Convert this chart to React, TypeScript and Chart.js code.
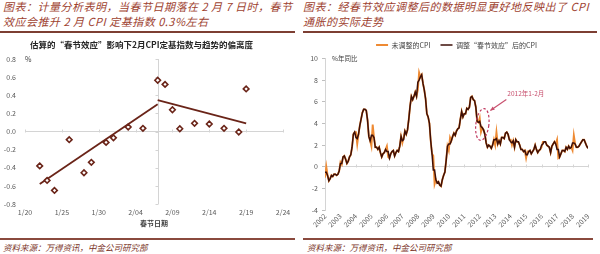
import React, { useEffect, useRef } from 'react';
import { Chart, registerables } from 'chart.js';

Chart.register(...registerables);

const FONT = '"Noto Sans CJK SC", "Noto Sans", sans-serif';

// ---------------- left panel ----------------
const leftHeader = ['图表：计量分析表明，当春节日期落在 2 月 7 日时，春节', '效应会推升 2 月 CPI 定基指数 0.3%左右'];
const leftTitle = '估算的“春节效应”影响下2月CPI定基指数与趋势的偏离度';
const leftXTitle = '春节日期';
const leftUnit = '%';
const leftTickLabels = ['1/20', '1/25', '1/30', '2/04', '2/09', '2/14', '2/19', '2/24'];
const leftAxisCross = '2/07';
const leftDates = ['1/22', '1/23', '1/24', '1/26', '1/28', '1/29', '1/31', '2/01', '2/03', '2/05', '2/07', '2/08', '2/09', '2/10', '2/12', '2/14', '2/16', '2/18', '2/19'];
const leftDeviation = [-0.38, -0.54, -0.65, -0.09, -0.455, -0.34, -0.12, -0.07, 0.05, 0.035, 0.565, 0.52, 0.24, 0.03, 0.09, 0.083, 0.035, -0.005, 0.47];
const trendBeforeDates = ['1/22', '2/07'];
const trendBeforeValues = [-0.58, 0.30];
const trendAfterDates = ['2/07', '2/19'];
const trendAfterValues = [0.345, 0.09];
const leftYTicks = { min: -0.8, max: 0.8, step: 0.2 };

// ---------------- right panel ----------------
const rightHeader = ['图表：经春节效应调整后的数据明显更好地反映出了 CPI', '通胀的实际走势'];
const seriesNames = ['未调整的CPI', '调整“春节效应”后的CPI'];
const rightUnit = '%年同比';
const yearLabels = ['2002', '2003', '2004', '2005', '2006', '2007', '2008', '2009', '2010', '2011', '2012', '2013', '2014', '2015', '2016', '2017', '2018', '2019'];
const cpiRaw = [
  -1.0, 0.0, -0.8, -1.3, -1.1, -0.8, -0.9, -0.7, -0.7, -0.8, -0.7, -0.4,
  0.4, 0.2, 0.9, 1.0, 0.7, 0.3, 0.5, 0.9, 1.1, 1.8, 3.0, 3.2,
  3.2, 2.1, 3.0, 3.8, 4.4, 5.0, 5.3, 5.3, 5.2, 4.3, 2.8, 2.4,
  1.9, 3.9, 2.7, 1.8, 1.8, 1.6, 1.8, 1.3, 0.9, 1.2, 1.3, 1.6,
  1.9, 0.9, 0.8, 1.2, 1.4, 1.5, 1.0, 1.3, 1.5, 1.4, 1.9, 2.8,
  2.2, 2.7, 3.3, 3.0, 3.4, 4.4, 5.6, 6.5, 6.2, 6.5, 6.9, 6.5,
  7.1, 8.7, 8.3, 8.5, 7.7, 7.1, 6.3, 4.9, 4.6, 4.0, 2.4, 1.2,
  1.0, -1.6, -1.2, -1.5, -1.4, -1.7, -1.8, -1.2, -0.8, -0.5, 0.6, 1.9,
  1.5, 2.7, 2.4, 2.8, 3.1, 2.9, 3.3, 3.5, 3.6, 4.4, 5.1, 4.6,
  4.9, 4.9, 5.4, 5.3, 5.5, 6.4, 6.5, 6.2, 6.1, 5.5, 4.2, 4.1,
  4.5, 3.2, 3.6, 3.4, 3.0, 2.2, 1.8, 2.0, 1.9, 1.7, 2.0, 2.5,
  2.0, 3.2, 2.1, 2.4, 2.1, 2.7, 2.7, 2.6, 3.1, 3.2, 3.0, 2.5,
  2.5, 2.0, 2.4, 1.8, 2.5, 2.3, 2.3, 2.0, 1.6, 1.6, 1.4, 1.5,
  0.8, 1.4, 1.4, 1.5, 1.2, 1.4, 1.6, 2.0, 1.6, 1.3, 1.5, 1.6,
  1.8, 2.3, 2.3, 2.3, 2.0, 1.9, 1.8, 1.3, 1.9, 2.1, 2.3, 2.1,
  2.5, 0.8, 0.9, 1.2, 1.5, 1.5, 1.4, 1.8, 1.6, 1.9, 1.7, 1.8,
  1.5, 2.9, 2.1, 1.8, 1.8, 1.9, 2.1, 2.3, 2.5, 2.5, 2.2, 1.9,
  1.7,
];
const cpiAdj = [
  -0.5, -0.5, -0.8, -1.3, -1.1, -0.8, -0.9, -0.7, -0.7, -0.8, -0.7, -0.4,
  0.3, 0.3, 0.9, 1.0, 0.7, 0.3, 0.5, 0.9, 1.1, 1.8, 3.0, 3.2,
  2.7, 2.6, 3.0, 3.8, 4.4, 5.0, 5.3, 5.3, 5.2, 4.3, 2.8, 2.4,
  2.9, 2.9, 2.7, 1.8, 1.8, 1.6, 1.8, 1.3, 0.9, 1.2, 1.3, 1.6,
  1.4, 1.4, 0.8, 1.2, 1.4, 1.5, 1.0, 1.3, 1.5, 1.4, 1.9, 2.8,
  2.4, 2.5, 3.3, 3.0, 3.4, 4.4, 5.6, 6.5, 6.2, 6.5, 6.9, 6.5,
  7.8, 8.0, 8.3, 8.5, 7.7, 7.1, 6.3, 4.9, 4.6, 4.0, 2.4, 1.2,
  -0.3, -0.3, -1.2, -1.5, -1.4, -1.7, -1.8, -1.2, -0.8, -0.5, 0.6, 1.9,
  2.1, 2.1, 2.4, 2.8, 3.1, 2.9, 3.3, 3.5, 3.6, 4.4, 5.1, 4.6,
  4.9, 4.9, 5.4, 5.3, 5.5, 6.4, 6.5, 6.2, 6.1, 5.5, 4.2, 4.1,
  4.2, 3.7, 3.6, 3.4, 3.0, 2.2, 1.8, 2.0, 1.9, 1.7, 2.0, 2.5,
  2.5, 2.6, 2.1, 2.4, 2.1, 2.7, 2.7, 2.6, 3.1, 3.2, 3.0, 2.5,
  2.3, 2.2, 2.4, 1.8, 2.5, 2.3, 2.3, 2.0, 1.6, 1.6, 1.4, 1.5,
  1.1, 1.1, 1.4, 1.5, 1.2, 1.4, 1.6, 2.0, 1.6, 1.3, 1.5, 1.6,
  2.0, 2.1, 2.3, 2.3, 2.0, 1.9, 1.8, 1.3, 1.9, 2.1, 2.3, 2.1,
  1.6, 1.6, 0.9, 1.2, 1.5, 1.5, 1.4, 1.8, 1.6, 1.9, 1.7, 1.8,
  2.2, 2.2, 2.1, 1.8, 1.8, 1.9, 2.1, 2.3, 2.5, 2.5, 2.2, 1.9,
  1.7,
];
const rightYTicks = { min: -4, max: 10, step: 2 };
const annoText = '2012年1-2月';
const annoMonths = [120, 121];
const annoValue = 3.9;
const sourceText = '资料来源：万得资讯，中金公司研究部';

// ---------------- helpers ----------------
function dayIndex(s: string) {
  const [m, d] = s.split('/').map(Number);
  return (m === 1 ? d : 31 + d) - 20;
}
const pts = (dates: string[], vals: number[]) => dates.map((d, i) => ({ x: dayIndex(d), y: vals[i] }));

const BROWN = '#6a2418';
const AXIS = '#d4d4d4';

const leftPlugin = {
  id: 'leftAxes',
  beforeDatasetsDraw(chart: any) {
    const { ctx, chartArea, scales } = chart;
    const x = scales.x, y = scales.y;
    const cx = Math.round(x.getPixelForValue(dayIndex(leftAxisCross))) + 0.5;
    const zy = Math.round(y.getPixelForValue(0)) + 0.5;
    ctx.save();
    ctx.strokeStyle = AXIS;
    ctx.lineWidth = 1;
    ctx.beginPath();
    ctx.moveTo(cx, chartArea.top);
    ctx.lineTo(cx, chartArea.bottom);
    y.ticks.forEach((t: any) => {
      const py = Math.round(y.getPixelForValue(t.value)) + 0.5;
      ctx.moveTo(cx - 3, py);
      ctx.lineTo(cx, py);
    });
    x.ticks.forEach((t: any) => {
      const px = Math.round(x.getPixelForValue(t.value)) + 0.5;
      ctx.moveTo(px, zy);
      ctx.lineTo(px, zy - 3);
    });
    ctx.stroke();
    ctx.fillStyle = '#404040';
    ctx.font = `7px ${FONT}`;
    ctx.textAlign = 'left';
    ctx.textBaseline = 'middle';
    ctx.fillText(leftUnit, chartArea.left, chartArea.top);
    ctx.restore();
  },
};

const rightPlugin = {
  id: 'rightDecor',
  beforeDatasetsDraw(chart: any) {
    const { ctx, chartArea, scales } = chart;
    const x = scales.x, y = scales.y;
    const zy = Math.round(y.getPixelForValue(0)) + 0.5;
    ctx.save();
    ctx.strokeStyle = AXIS;
    ctx.lineWidth = 1;
    ctx.beginPath();
    x.ticks.forEach((t: any) => {
      const px = Math.round(x.getPixelForValue(t.value)) + 0.5;
      ctx.moveTo(px, zy);
      ctx.lineTo(px, zy - 3);
    });
    ctx.stroke();
    ctx.fillStyle = '#404040';
    ctx.font = `6.5px ${FONT}`;
    ctx.textAlign = 'left';
    ctx.textBaseline = 'middle';
    ctx.fillText(rightUnit, chartArea.left + 7, chartArea.top);
    ctx.restore();
  },
  afterDatasetsDraw(chart: any) {
    const { ctx, scales } = chart;
    const x = scales.x, y = scales.y;
    const cx = (x.getPixelForValue(annoMonths[0]) + x.getPixelForValue(annoMonths[1])) / 2 + 2;
    const cy = y.getPixelForValue(annoValue);
    ctx.save();
    ctx.strokeStyle = '#c0395f';
    ctx.lineWidth = 1.2;
    ctx.setLineDash([2.5, 2]);
    ctx.beginPath();
    ctx.ellipse(cx, cy, 6.5, 16, (7 * Math.PI) / 180, 0, Math.PI * 2);
    ctx.stroke();
    ctx.setLineDash([]);
    const ax0 = cx + 24, ay0 = cy - 25, ax1 = cx + 8, ay1 = cy - 14;
    ctx.strokeStyle = '#c8506e';
    ctx.fillStyle = '#c8506e';
    ctx.lineWidth = 1.2;
    ctx.beginPath();
    ctx.moveTo(ax0, ay0);
    ctx.lineTo(ax1, ay1);
    ctx.stroke();
    const ang = Math.atan2(ay1 - ay0, ax1 - ax0);
    ctx.beginPath();
    ctx.moveTo(ax1, ay1);
    ctx.lineTo(ax1 - 4.5 * Math.cos(ang - 0.45), ay1 - 4.5 * Math.sin(ang - 0.45));
    ctx.lineTo(ax1 - 4.5 * Math.cos(ang + 0.45), ay1 - 4.5 * Math.sin(ang + 0.45));
    ctx.closePath();
    ctx.fill();
    ctx.font = `6.5px ${FONT}`;
    ctx.textAlign = 'left';
    ctx.textBaseline = 'middle';
    ctx.fillText(annoText, cx + 25, cy - 31);
    ctx.restore();
  },
};

const zeroOnly = (c: any) => (Math.abs(c.tick?.value ?? 1) < 1e-9 ? AXIS : 'rgba(0,0,0,0)');

function leftConfig(): any {
  return {
    type: 'scatter',
    data: {
      datasets: [
        {
          label: 'deviation',
          data: pts(leftDates, leftDeviation),
          pointStyle: 'rectRot',
          pointRadius: 2.8,
          pointBorderWidth: 1.6,
          pointBorderColor: BROWN,
          pointBackgroundColor: '#ffffff',
          showLine: false,
        },
        {
          label: 'trend1',
          data: pts(trendBeforeDates, trendBeforeValues),
          showLine: true,
          borderColor: BROWN,
          borderWidth: 1.8,
          pointRadius: 0,
        },
        {
          label: 'trend2',
          data: pts(trendAfterDates, trendAfterValues),
          showLine: true,
          borderColor: BROWN,
          borderWidth: 1.8,
          pointRadius: 0,
        },
      ],
    },
    options: {
      animation: false,
      responsive: false,
      devicePixelRatio: 1,
      layout: { padding: { right: 17 } },
      plugins: {
        legend: { display: false },
        tooltip: { enabled: false },
        title: {
          display: true,
          text: leftTitle,
          color: '#262626',
          font: { family: FONT, size: 8.5, weight: 'bold' },
          padding: { top: 3.9, bottom: 8.9 },
        },
      },
      scales: {
        x: {
          type: 'linear',
          min: 0,
          max: (leftTickLabels.length - 1) * 5,
          afterFit: (s: any) => { s.height = 28; },
          grid: { display: false, drawTicks: false },
          border: { display: false },
          ticks: {
            stepSize: 5,
            autoSkip: false,
            maxRotation: 0,
            padding: 4,
            color: '#595959',
            font: { family: FONT, size: 7 },
            callback: (v: number) => leftTickLabels[Math.round(v / 5)] ?? '',
          },
          title: {
            display: true,
            text: leftXTitle,
            color: '#404040',
            font: { family: FONT, size: 7, weight: 'bold' },
            padding: { top: 0, bottom: 4.8 },
          },
        },
        y: {
          min: leftYTicks.min,
          max: leftYTicks.max,
          afterFit: (s: any) => { s.width = 25; },
          grid: { display: true, drawTicks: false, color: zeroOnly },
          border: { display: false },
          ticks: {
            stepSize: leftYTicks.step,
            padding: 9,
            color: '#595959',
            font: { family: FONT, size: 7 },
            callback: (v: number) => (Math.abs(v) < 1e-9 ? 0 : v).toFixed(1),
          },
        },
      },
    },
    plugins: [leftPlugin],
  };
}

function rightConfig(): any {
  return {
    type: 'line',
    data: {
      datasets: [
        {
          label: seriesNames[0],
          data: cpiRaw.map((v, i) => ({ x: i, y: v })),
          borderColor: '#ee8a33',
          backgroundColor: '#ee8a33',
          borderWidth: 1.9,
          pointRadius: 0,
          fill: false,
          tension: 0,
          order: 1,
        },
        {
          label: seriesNames[1],
          data: cpiAdj.map((v, i) => ({ x: i, y: v })),
          borderColor: '#3d0f08',
          backgroundColor: '#3d0f08',
          borderWidth: 1.5,
          pointRadius: 0,
          fill: false,
          tension: 0,
          order: 0,
        },
      ],
    },
    options: {
      animation: false,
      responsive: false,
      devicePixelRatio: 1,
      layout: { padding: { top: -4.5, right: 12 } },
      plugins: {
        tooltip: { enabled: false },
        legend: {
          display: true,
          position: 'top',
          fullSize: false,
          labels: {
            usePointStyle: true,
            pointStyle: 'line',
            pointStyleWidth: 12,
            padding: 10,
            color: '#404040',
            font: { family: FONT, size: 7 },
            sort: (a: any, b: any) => a.datasetIndex - b.datasetIndex,
          },
        },
      },
      scales: {
        x: {
          type: 'linear',
          min: 0,
          max: (yearLabels.length - 1) * 12,
          afterFit: (s: any) => { s.height = 22; },
          grid: { display: false, drawTicks: false },
          border: { display: false },
          ticks: {
            stepSize: 12,
            autoSkip: false,
            minRotation: 45,
            maxRotation: 45,
            padding: 2,
            color: '#595959',
            font: { family: FONT, size: 7 },
            callback: (v: number) => yearLabels[Math.round(v / 12)] ?? '',
          },
        },
        y: {
          min: rightYTicks.min,
          max: rightYTicks.max,
          afterFit: (s: any) => { s.width = 25; },
          grid: { display: true, drawTicks: true, tickLength: 3, tickColor: '#bfbfbf', color: zeroOnly },
          border: { display: true, color: AXIS },
          ticks: {
            stepSize: rightYTicks.step,
            padding: 4,
            color: '#595959',
            font: { family: FONT, size: 7 },
          },
        },
      },
    },
    plugins: [rightPlugin],
  };
}

const headerStyle: React.CSSProperties = {
  position: 'absolute',
  top: -1,
  fontFamily: FONT,
  fontSize: 11,
  lineHeight: '15px',
  fontStyle: 'italic',
  color: '#9e4230',
  letterSpacing: '0.5px',
  whiteSpace: 'nowrap',
};
const sourceStyle: React.CSSProperties = {
  position: 'absolute',
  top: 241,
  fontFamily: FONT,
  fontSize: 8.5,
  lineHeight: '12px',
  fontStyle: 'italic',
  color: '#7a3226',
  whiteSpace: 'nowrap',
};

export default function App() {
  const leftRef = useRef<HTMLCanvasElement>(null);
  const rightRef = useRef<HTMLCanvasElement>(null);
  useEffect(() => {
    const c1 = new Chart(leftRef.current as HTMLCanvasElement, leftConfig());
    const c2 = new Chart(rightRef.current as HTMLCanvasElement, rightConfig());
    return () => {
      c1.destroy();
      c2.destroy();
    };
  }, []);
  return (
    <div style={{ position: 'fixed', left: 0, top: 0, width: 600, height: 254, background: '#fff', overflow: 'hidden' }}>
      <div style={{ ...headerStyle, left: 3 }}>
        {leftHeader[0]}
        <br />
        {leftHeader[1]}
      </div>
      <div style={{ ...headerStyle, left: 303 }}>
        {rightHeader[0]}
        <br />
        {rightHeader[1]}
      </div>
      <div style={{ position: 'absolute', left: 0, top: 31, width: 295, height: 2, background: '#7d3f33' }} />
      <div style={{ position: 'absolute', left: 303, top: 31, width: 294, height: 2, background: '#7d3f33' }} />
      <canvas ref={leftRef} width={300} height={196} style={{ position: 'absolute', left: 0, top: 36, width: 300, height: 196 }} />
      <canvas ref={rightRef} width={300} height={196} style={{ position: 'absolute', left: 300, top: 36, width: 300, height: 196 }} />
      <div style={{ position: 'absolute', left: 0, top: 238, width: 295, height: 1.5, background: '#8a4a3e' }} />
      <div style={{ position: 'absolute', left: 303, top: 238, width: 290, height: 1.5, background: '#8a4a3e' }} />
      <div style={{ ...sourceStyle, left: 3 }}>{sourceText}</div>
      <div style={{ ...sourceStyle, left: 307 }}>{sourceText}</div>
    </div>
  );
}
